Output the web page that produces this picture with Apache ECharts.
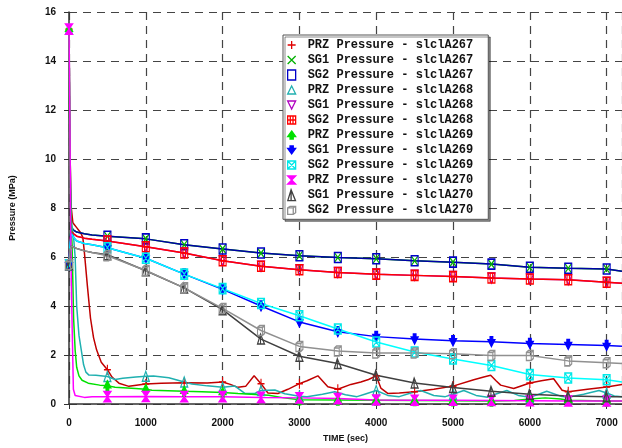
<!DOCTYPE html>
<html>
<head>
<meta charset="utf-8">
<script src="https://cdn.jsdelivr.net/npm/echarts@6/dist/echarts.min.js"></script>
<style>
  html, body { margin: 0; padding: 0; background: #fff; }
  #chart { width: 622px; height: 448px; }
</style>
</head>
<body>
<div id="chart"></div>
<script>
// [time (s), pressure (MPa)]
const przA267 = [[0,15.3],[15,10],[30,8],[50,7.4],[100,7.2],[150,7.0],[180,6.8],[200,6.2],[240,4.8],[280,3.5],[320,2.7],[360,2.2],[420,1.7],[500,1.4],[560,1.1],[650,0.85],[780,0.72],[900,0.78],[1000,0.82],[1200,0.85],[1500,0.87],[1800,0.86],[2000,0.9],[2100,0.8],[2200,0.68],[2300,0.72],[2410,1.15],[2500,0.83],[2590,0.45],[2720,0.43],[2850,0.6],[3000,0.83],[3100,0.95],[3240,1.15],[3370,0.7],[3500,0.6],[3670,0.8],[3800,0.9],[3900,1.0],[4000,1.15],[4060,0.65],[4150,0.43],[4300,0.45],[4500,0.5],[4750,0.6],[5000,0.73],[5270,0.99],[5400,1.1],[5490,1.17],[5560,0.95],[5620,0.77],[5790,0.63],[6000,0.86],[6150,0.95],[6310,1.03],[6420,0.56],[6500,0.5],[6750,0.6],[7000,0.69],[7200,0.8]];
const sg1A267 = [[0,5.68],[15,6.8],[30,7.2],[60,7.1],[100,7.02],[200,6.95],[300,6.9],[500,6.85],[1000,6.74],[1500,6.5],[2000,6.33],[2500,6.16],[3000,6.05],[3500,5.98],[4000,5.93],[4500,5.85],[5000,5.79],[5500,5.71],[6000,5.58],[6500,5.54],[7000,5.51],[7200,5.42]];
const sg2A267 = [[0,5.68],[15,6.8],[30,7.2],[60,7.1],[100,7.02],[200,6.95],[300,6.9],[500,6.85],[1000,6.74],[1500,6.5],[2000,6.33],[2500,6.16],[3000,6.05],[3500,5.98],[4000,5.93],[4500,5.85],[5000,5.79],[5500,5.71],[6000,5.58],[6500,5.54],[7000,5.51],[7200,5.42]];
const przA268 = [[0,15.3],[15,10],[30,7.5],[60,6.8],[80,6.0],[100,4.0],[130,2.8],[160,2.2],[190,1.6],[220,1.3],[260,1.18],[350,1.17],[500,1.12],[600,1.0],[700,1.05],[870,1.1],[1000,1.13],[1100,1.14],[1300,1.07],[1500,0.9],[1600,0.82],[1800,0.74],[2000,0.68],[2160,0.73],[2290,0.43],[2420,0.43],[2500,0.55],[2680,0.57],[2810,0.42],[3000,0.32],[3100,0.3],[3300,0.4],[3460,0.5],[3600,0.38],[3750,0.3],[3850,0.4],[4000,0.55],[4150,0.35],[4300,0.3],[4450,0.45],[4580,0.55],[4750,0.35],[4900,0.3],[5000,0.4],[5140,0.55],[5300,0.35],[5450,0.28],[5550,0.4],[5700,0.55],[5850,0.35],[6000,0.28],[6100,0.38],[6220,0.52],[6400,0.32],[6500,0.28],[6700,0.4],[6900,0.55],[7000,0.45],[7100,0.33],[7200,0.3]];
const sg1A268 = [[0,5.68],[15,6.7],[30,7.05],[60,6.95],[100,6.85],[200,6.77],[300,6.72],[500,6.65],[1000,6.42],[1500,6.16],[2000,5.85],[2500,5.62],[3000,5.48],[3500,5.37],[4000,5.3],[4500,5.25],[5000,5.2],[5500,5.14],[6000,5.1],[6500,5.07],[7000,4.97],[7200,4.93]];
const sg2A268 = [[0,5.68],[15,6.7],[30,7.05],[60,6.95],[100,6.85],[200,6.77],[300,6.72],[500,6.65],[1000,6.42],[1500,6.16],[2000,5.85],[2500,5.62],[3000,5.48],[3500,5.37],[4000,5.3],[4500,5.25],[5000,5.2],[5500,5.14],[6000,5.1],[6500,5.07],[7000,4.97],[7200,4.93]];
const przA269 = [[0,15.3],[15,9],[30,7.2],[40,6.5],[50,5],[60,3.5],[80,2.2],[100,1.5],[130,1.15],[170,0.97],[250,0.85],[400,0.77],[500,0.75],[600,0.68],[865,0.63],[1000,0.6],[1080,0.56],[1500,0.52],[1730,0.5],[2000,0.47],[2200,0.43],[2600,0.36],[2800,0.25],[3000,0.17],[3500,0.16],[4000,0.15],[4500,0.14],[5000,0.13],[5500,0.12],[5800,0.14],[6000,0.2],[6200,0.25],[6400,0.2],[6500,0.15],[7000,0.12],[7200,0.12]];
const sg1A269 = [[0,5.68],[15,6.6],[30,6.95],[60,6.8],[100,6.65],[200,6.55],[300,6.5],[500,6.38],[1000,5.95],[1500,5.3],[2000,4.68],[2500,4.0],[3000,3.35],[3500,2.95],[4000,2.75],[4500,2.65],[5000,2.58],[5500,2.54],[6000,2.47],[6500,2.43],[7000,2.39],[7200,2.36]];
const sg2A269 = [[0,5.68],[15,6.6],[30,6.95],[60,6.8],[100,6.65],[200,6.55],[300,6.5],[500,6.38],[1000,5.95],[1500,5.3],[2000,4.71],[2500,4.1],[3000,3.6],[3500,3.06],[4000,2.53],[4500,2.12],[5000,1.84],[5500,1.57],[6000,1.2],[6500,1.06],[7000,0.99],[7200,0.9]];
const przA270 = [[0,15.3],[10,12],[20,8],[30,5],[45,2.5],[57,0.6],[80,0.35],[104,0.28],[200,0.27],[300,0.3],[500,0.3],[1000,0.31],[1500,0.3],[2000,0.3],[2500,0.27],[3000,0.25],[3500,0.22],[4000,0.16],[4500,0.15],[5000,0.15],[5500,0.14],[6000,0.13],[6500,0.12],[7000,0.12],[7200,0.12]];
const sg1A270 = [[0,5.68],[15,6.3],[30,6.45],[60,6.4],[100,6.35],[200,6.25],[300,6.18],[500,6.09],[1000,5.44],[1500,4.74],[2000,3.85],[2500,2.65],[3000,1.95],[3500,1.65],[4000,1.17],[4500,0.86],[5000,0.67],[5500,0.52],[6000,0.4],[6500,0.33],[7000,0.3],[7200,0.3]];
const sg2A270 = [[0,5.68],[15,6.3],[30,6.45],[60,6.4],[100,6.35],[200,6.25],[300,6.18],[500,6.05],[1000,5.45],[1500,4.74],[2000,3.9],[2500,3.0],[3000,2.35],[3500,2.16],[4000,2.08],[4500,2.08],[5000,2.05],[5500,1.98],[6000,1.98],[6500,1.76],[7000,1.68],[7200,1.65]];

const yTicks = [0, 2, 4, 6, 8, 10, 12, 14, 16];

const SYM = {
  plus: 'path://M5,0L5,10M0,5L10,5',
  cross: 'path://M0,0L10,10M10,0L0,10',
  square: 'path://M1,0L9,0L9,10L1,10Z',
  tri: 'path://M5,0L10,10L0,10Z',
  triDown: 'path://M0,0L10,0L5,10Z',
  gridSq: 'path://M0,0L10,0L10,10L0,10Z M3.3,0L3.3,10 M6.7,0L6.7,10 M0,5L10,5',
  triStem: 'path://M5,0L10,7L0,7Z M3,7L7,7L7,10L3,10Z',
  triDownStem: 'path://M0,3L10,3L5,10Z M3,0L7,0L7,3L3,3Z',
  hourSq: 'path://M0,0L10,0L10,10L0,10Z M0,0L10,10 M10,0L0,10',
  hour: 'path://M0,0L10,0L5,5L10,10L0,10L5,5Z',
  sail: 'path://M5,0L9,10L2,10Z M5,0L5,10',
  cyl: 'path://M3,0L10,0L10,8L7,10L0,10L0,2Z M0,2L7,2L10,0 M7,2L7,10'
};

const defs = [
  { name: 'PRZ Pressure - slclA267', data: przA267, line: '#c00000', mark: '#e00000', sym: SYM.plus, fill: false },
  { name: 'SG1 Pressure - slclA267', data: sg1A267, line: '#00b000', mark: '#00b000', sym: SYM.cross, fill: false },
  { name: 'SG2 Pressure - slclA267', data: sg2A267, line: '#0000a8', mark: '#0000c8', sym: SYM.square, fill: false },
  { name: 'PRZ Pressure - slclA268', data: przA268, line: '#20b0b0', mark: '#20b0b0', sym: SYM.tri, fill: false },
  { name: 'SG1 Pressure - slclA268', data: sg1A268, line: '#b000c0', mark: '#b000c0', sym: SYM.triDown, fill: false },
  { name: 'SG2 Pressure - slclA268', data: sg2A268, line: '#ff0000', mark: '#ff0000', sym: SYM.gridSq, fill: false },
  { name: 'PRZ Pressure - slclA269', data: przA269, line: '#00e000', mark: '#00e000', sym: SYM.triStem, fill: true },
  { name: 'SG1 Pressure - slclA269', data: sg1A269, line: '#0000ff', mark: '#0000ff', sym: SYM.triDownStem, fill: true },
  { name: 'SG2 Pressure - slclA269', data: sg2A269, line: '#00ffff', mark: '#00e8e8', sym: SYM.hourSq, fill: false },
  { name: 'PRZ Pressure - slclA270', data: przA270, line: '#ff00ff', mark: '#ff00ff', sym: SYM.hour, fill: true },
  { name: 'SG1 Pressure - slclA270', data: sg1A270, line: '#404040', mark: '#404040', sym: SYM.sail, fill: false },
  { name: 'SG2 Pressure - slclA270', data: sg2A270, line: '#909090', mark: '#909090', sym: SYM.cyl, fill: false }
];

const markStyle = (d) => ({
  color: d.fill ? d.mark : 'rgba(0,0,0,0)',
  borderColor: d.mark,
  borderWidth: 1.3
});

const series = defs.map((d) => ({
  name: d.name,
  type: 'line',
  data: d.data,
  symbol: d.sym,
  symbolSize: (v) => (v[0] % 500 === 0 ? [7, 10] : 0),
  showAllSymbol: true,
  lineStyle: { color: d.line, width: 1.5 },
  itemStyle: markStyle(d),
  emphasis: { disabled: true }
}));

const chart = echarts.init(document.getElementById('chart'), null, { renderer: 'canvas' });

const axisFont = { fontFamily: 'Liberation Sans', fontWeight: 'bold', fontSize: 10, color: '#111' };

chart.setOption({
  animation: false,
  backgroundColor: '#fff',
  grid: { left: 67, right: 0, top: 12, bottom: 41 },
  legend: {
    orient: 'vertical',
    left: 283,
    top: 35,
    padding: [4, 15, 3, 4],
    itemWidth: 8,
    itemHeight: 11,
    itemGap: 3,
    backgroundColor: '#fff',
    borderColor: '#555',
    borderWidth: 1,
    shadowColor: 'rgba(0,0,0,0.45)',
    shadowOffsetX: 2,
    shadowOffsetY: 2,
    shadowBlur: 0,
    selectedMode: false,
    textStyle: {
      fontFamily: 'Liberation Mono',
      fontWeight: 'bold',
      fontSize: 12,
      color: '#111',
      padding: [0, 0, 0, 7]
    },
    data: defs.map((d) => ({ name: d.name, icon: d.sym, itemStyle: markStyle(d) }))
  },
  xAxis: {
    type: 'value',
    min: 0,
    max: 7200,
    interval: 1000,
    name: 'TIME (sec)',
    nameLocation: 'middle',
    nameGap: 30,
    nameTextStyle: { fontFamily: 'Liberation Sans', fontWeight: 'bold', fontSize: 9, color: '#111' },
    axisLine: { lineStyle: { color: '#333', width: 1.5 } },
    axisTick: { show: true, length: 5, lineStyle: { color: '#333', width: 1 } },
    axisLabel: Object.assign({ margin: 14, showMaxLabel: false, formatter: (v) => String(v) }, axisFont),
    splitLine: { show: true, lineStyle: { color: '#444', type: [8, 6], width: 1.2 } }
  },
  yAxis: {
    type: 'value',
    min: yTicks[0],
    max: yTicks[yTicks.length - 1],
    interval: 2,
    name: 'Pressure (MPa)',
    nameLocation: 'middle',
    nameGap: 52,
    nameTextStyle: { fontFamily: 'Liberation Sans', fontWeight: 'bold', fontSize: 9, color: '#111' },
    axisLine: { show: true, lineStyle: { color: '#333', width: 1.5 } },
    axisTick: { show: true, length: 5, lineStyle: { color: '#333', width: 1 } },
    axisLabel: Object.assign({ margin: 13 }, axisFont),
    splitLine: { show: true, lineStyle: { color: '#444', type: [8, 6], width: 1.2 } }
  },
  series: series
});
</script>
</body>
</html>
